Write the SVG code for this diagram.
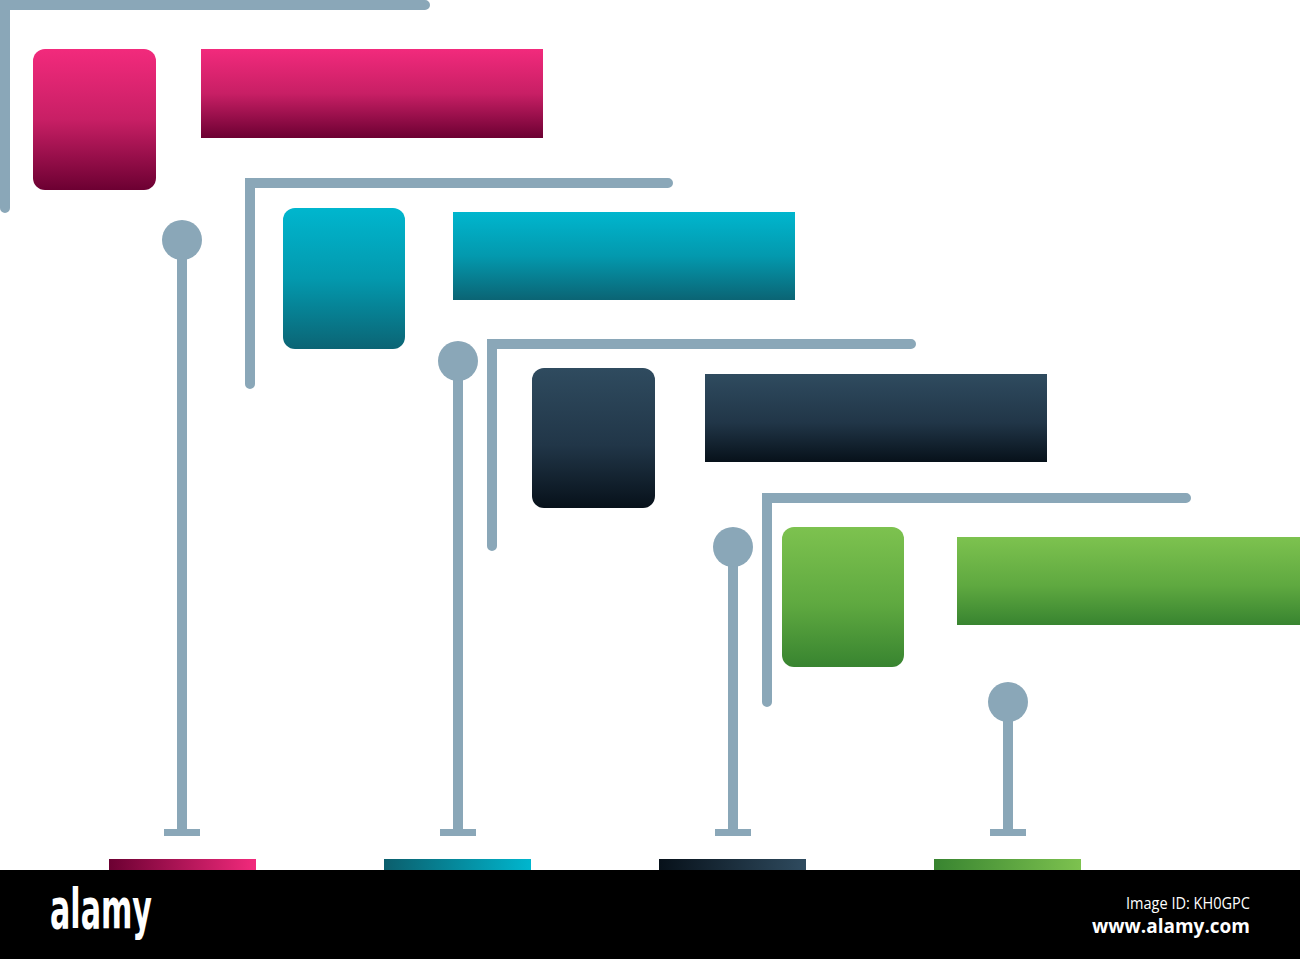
<svg xmlns="http://www.w3.org/2000/svg" width="1300" height="959" viewBox="0 0 1300 959">
<defs>
<linearGradient id="gPink" x1="0" y1="0" x2="0" y2="1"><stop offset="0" stop-color="#f22a7c"/><stop offset="0.5" stop-color="#c81f65"/><stop offset="1" stop-color="#6c0032"/></linearGradient>
<linearGradient id="gTeal" x1="0" y1="0" x2="0" y2="1"><stop offset="0" stop-color="#00b6ce"/><stop offset="0.5" stop-color="#0399ae"/><stop offset="1" stop-color="#0b6474"/></linearGradient>
<linearGradient id="gDark" x1="0" y1="0" x2="0" y2="1"><stop offset="0" stop-color="#2f4b5f"/><stop offset="0.55" stop-color="#213648"/><stop offset="1" stop-color="#07111a"/></linearGradient>
<linearGradient id="gGreen" x1="0" y1="0" x2="0" y2="1"><stop offset="0" stop-color="#7dc24f"/><stop offset="0.55" stop-color="#5fa940"/><stop offset="1" stop-color="#388430"/></linearGradient>
<linearGradient id="hPink" x1="0" y1="0" x2="1" y2="0"><stop offset="0" stop-color="#6c0032"/><stop offset="1" stop-color="#f22a7c"/></linearGradient>
<linearGradient id="hTeal" x1="0" y1="0" x2="1" y2="0"><stop offset="0" stop-color="#0b5e6c"/><stop offset="1" stop-color="#00b6ce"/></linearGradient>
<linearGradient id="hDark" x1="0" y1="0" x2="1" y2="0"><stop offset="0" stop-color="#07111a"/><stop offset="1" stop-color="#2f4b5f"/></linearGradient>
<linearGradient id="hGreen" x1="0" y1="0" x2="1" y2="0"><stop offset="0" stop-color="#388430"/><stop offset="1" stop-color="#7dc24f"/></linearGradient>
</defs>
<style>
.br{fill:none;stroke:#8aa7b8;stroke-width:10;stroke-linecap:round;stroke-linejoin:miter}
.stem{stroke:#8aa7b8;stroke-width:10}
.pin{fill:#8aa7b8}
.ft{fill:#ffffff}
</style>
<rect x="0" y="0" width="1300" height="959" fill="#ffffff"/>
<g id="connectors">
<path class="br" d="M5,208 V5 H425"/>
<path class="br" d="M250,384 V183 H668"/>
<path class="br" d="M492,546 V344 H911"/>
<path class="br" d="M767,702 V498 H1186"/>
<line class="stem" x1="182" y1="240" x2="182" y2="832"/>
<rect class="pin" x="164" y="829" width="36" height="7"/>
<circle class="pin" cx="182" cy="240" r="20"/>
<line class="stem" x1="458" y1="361" x2="458" y2="832"/>
<rect class="pin" x="440" y="829" width="36" height="7"/>
<circle class="pin" cx="458" cy="361" r="20"/>
<line class="stem" x1="733" y1="547" x2="733" y2="832"/>
<rect class="pin" x="715" y="829" width="36" height="7"/>
<circle class="pin" cx="733" cy="547" r="20"/>
<line class="stem" x1="1008" y1="702" x2="1008" y2="832"/>
<rect class="pin" x="990" y="829" width="36" height="7"/>
<circle class="pin" cx="1008" cy="702" r="20"/>
</g>
<g id="node-pink">
<rect x="33" y="49" width="123" height="141" rx="12" fill="url(#gPink)"/>
<rect x="201" y="49" width="342" height="89" fill="url(#gPink)"/>
<rect x="109" y="859" width="147" height="12" fill="url(#hPink)"/>
</g>
<g id="node-teal">
<rect x="283" y="208" width="122" height="141" rx="12" fill="url(#gTeal)"/>
<rect x="453" y="212" width="342" height="88" fill="url(#gTeal)"/>
<rect x="384" y="859" width="147" height="12" fill="url(#hTeal)"/>
</g>
<g id="node-dark">
<rect x="532" y="368" width="123" height="140" rx="12" fill="url(#gDark)"/>
<rect x="705" y="374" width="342" height="88" fill="url(#gDark)"/>
<rect x="659" y="859" width="147" height="12" fill="url(#hDark)"/>
</g>
<g id="node-green">
<rect x="782" y="527" width="122" height="140" rx="12" fill="url(#gGreen)"/>
<rect x="957" y="537" width="343" height="88" fill="url(#gGreen)"/>
<rect x="934" y="859" width="147" height="12" fill="url(#hGreen)"/>
</g>
<g id="footer">
<rect x="0" y="870" width="1300" height="89" fill="#000000"/>
<text class="ft" x="50" y="928" font-family="'Liberation Sans Narrow','DejaVu Sans Condensed','Liberation Sans',sans-serif" font-weight="bold" font-size="56" textLength="102" lengthAdjust="spacingAndGlyphs">alamy</text>
<text class="ft" x="1250" y="909" text-anchor="end" font-family="'Open Sans','DejaVu Sans',sans-serif" font-size="16" textLength="124" lengthAdjust="spacingAndGlyphs">Image ID: KH0GPC</text>
<text class="ft" x="1250" y="933" text-anchor="end" font-family="'Open Sans','DejaVu Sans',sans-serif" font-weight="bold" font-size="19">www.alamy.com</text>
</g>
</svg>
